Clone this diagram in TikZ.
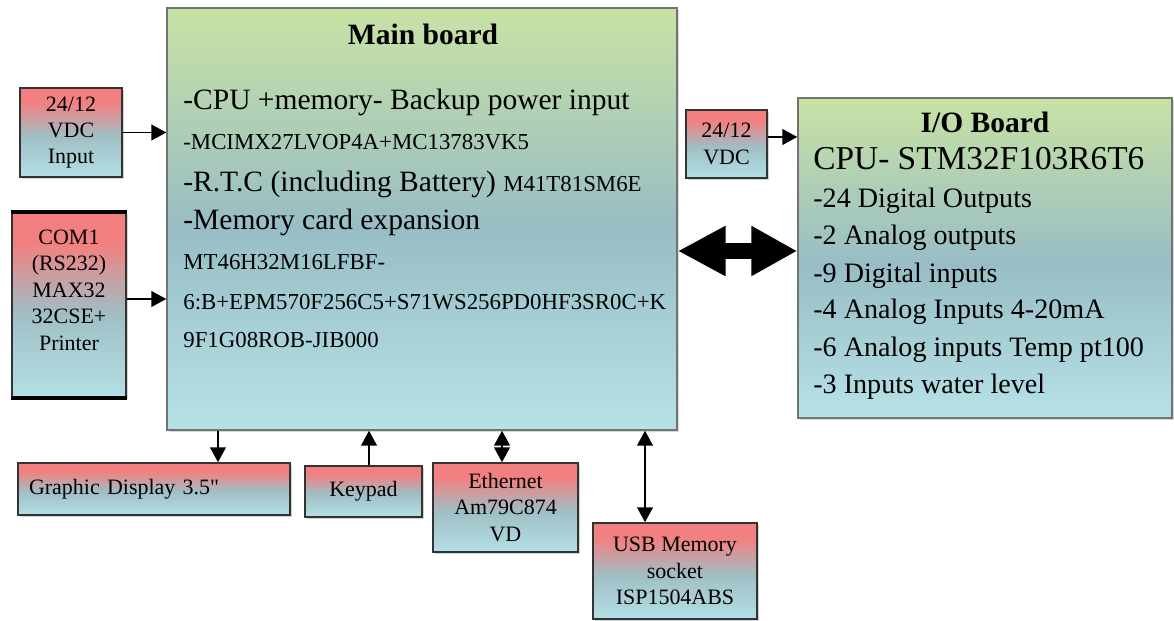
\documentclass[tikz,border=0pt]{standalone}
\usepackage{fontspec}
\setmainfont{Liberation Serif}
\newfontfamily\plainserif{Liberation Serif}
\usetikzlibrary{arrows.meta,shadows}

\definecolor{boardtop}{RGB}{200,226,164}
\definecolor{boardmid}{RGB}{152,189,197}
\definecolor{boardlow}{RGB}{182,226,231}
\definecolor{boxtop}{RGB}{243,128,128}
\definecolor{boxmid}{RGB}{160,190,196}
\definecolor{boxlow}{RGB}{178,224,230}

\pgfdeclareverticalshading{boardshade}{100bp}{color(0bp)=(boardlow); color(25bp)=(boardlow); color(49bp)=(boardmid); color(75bp)=(boardtop); color(100bp)=(boardtop)}
\pgfdeclareverticalshading{boxshade}{100bp}{color(0bp)=(boxlow); color(25bp)=(boxlow); color(48bp)=(boxmid); color(67bp)=(boxtop); color(100bp)=(boxtop)}

\begin{document}
\begin{tikzpicture}[x=0.02cm,y=-0.02cm,
    board/.style ={draw=black!55, line width=0.9pt, shading=boardshade, inner sep=0pt,
                   drop shadow={opacity=0.3, shadow xshift=1.2pt, shadow yshift=-1.2pt}},
    panel/.style ={draw=black!80, line width=0.9pt, shading=boxshade, inner sep=0pt, align=center,
                   font=\fontsize{12.5}{15}\selectfont,
                   drop shadow={opacity=0.35, shadow xshift=1.2pt, shadow yshift=-1.2pt}},
    heading/.style ={anchor=base, inner sep=0pt, font=\bfseries\fontsize{16.8}{20}\selectfont},
    bigline/.style ={anchor=base west, inner sep=0pt, font=\fontsize{16.8}{20}\selectfont},
    smallline/.style ={anchor=base west, inner sep=0pt, font=\fontsize{13}{15}\selectfont},
    ioline/.style ={anchor=base west, inner sep=0pt, font=\fontsize{16}{19}\selectfont},
    link/.style ={-{Triangle[length=8.5pt,width=9pt]}, line width=1pt},
    duplex/.style ={{Triangle[length=8.5pt,width=9pt]}-{Triangle[length=8.5pt,width=9pt]}, line width=1pt}]
   \useasboundingbox (0,0) rectangle (1174,621);

   % boards
   \node[board, minimum width=10.2cm, minimum height=8.44cm] (main) at (422,219) {};
   \node[board, minimum width=7.48cm, minimum height=6.4cm] (io) at (985,258) {};

   % main board text
   \node[heading] (maintitle) at (423,45) {Main board};
   \node[bigline] (cpu) at (183,110) {-CPU +memory- Backup power input};
   \node[smallline] (cpuic) at (183,150) {-MCIMX27LVOP4A+MC13783VK5};
   \node[bigline] (rtc) at (183,192) {-R.T.C (including Battery) {\fontsize{13}{15}\selectfont M41T81SM6E}};
   \node[bigline] (mem) at (183,230) {-Memory card expansion};
   \node[smallline] (memic1) at (183,270) {MT46H32M16LFBF-};
   \node[smallline] (memic2) at (183,310) {6:B+EPM570F256C5+S71WS256PD0HF3SR0C+K};
   \node[smallline] (memic3) at (183,348) {9F1G08ROB-JIB000};

   % I/O board text
   \node[heading] (iotitle) at (985,133) {I/O Board};
   \node[ioline, font=\fontsize{19}{22}\selectfont] (iocpu) at (813,170) {CPU- STM32F103R6T6};
   \node[ioline] (dout) at (813,208) {-24 Digital Outputs};
   \node[ioline] (aout) at (813,245) {-2 Analog outputs};
   \node[ioline] (din) at (813,283) {-9 Digital inputs};
   \node[ioline] (ain) at (813,319) {-4 Analog Inputs 4-20mA};
   \node[ioline] (tin) at (813,357) {-6 Analog inputs Temp pt100};
   \node[ioline] (lin) at (813,394) {-3 Inputs water level};

   % peripherals
   \node[panel, minimum width=2.04cm, minimum height=1.78cm] (vdcin) at (71,132.5) {24/12\\VDC\\Input};
   \node[panel, minimum width=2.28cm, minimum height=3.68cm] (com) at (69,305) {COM1\\(RS232)\\MAX32\\32CSE+\\Printer\\[2pt]~};
   \draw[line width=2.2pt] (com.north west) -- (com.north east);
   \draw[line width=2.2pt] (com.south west) -- (com.south east);
   \node[panel, minimum width=1.62cm, minimum height=1.36cm] (vdcio) at (726.5,144) {24/12\\VDC};
   \node[panel, minimum width=5.44cm, minimum height=1.04cm, text width=5.0cm, align=left] (gfx) at (154,489) {Graphic Display 3.5{\plainserif"}};
   \node[panel, minimum width=2.34cm, minimum height=1.02cm] (keypad) at (363.5,491.5) {Keypad};
   \node[panel, minimum width=2.9cm, minimum height=1.78cm] (eth) at (505.5,507.5) {Ethernet\\Am79C874\\VD};
   \node[panel, minimum width=3.28cm, minimum height=1.92cm] (usb) at (675,571) {USB Memory\\socket\\ISP1504ABS};

   % connections
   \coordinate (comport) at ([yshift=0.12cm]com.east);
   \coordinate (vdcport) at ([yshift=0.14cm]vdcio.east);
   \coordinate (gfxport) at ([xshift=1.28cm]gfx.north);
   \coordinate (keyport) at ([xshift=0.11cm]keypad.north);
   \coordinate (ethport) at ([xshift=-0.07cm]eth.north);
   \coordinate (usbport) at ([xshift=-0.6cm]usb.north);
   \coordinate (bus) at (677,251);

   \draw[link] (vdcin.east) -- (vdcin.east -| main.west);
   \draw[link] (comport) -- (comport -| main.west);
   \draw[link] (vdcport) -- (vdcport -| io.west);
   \draw[link] (gfxport |- main.south) -- (gfxport);
   \draw[link] (keyport) -- (keyport |- main.south);
   \draw[duplex] (ethport |- main.south) -- (ethport);
   \draw[duplex] (usbport |- main.south) -- (usbport);
   \draw[line width=0.32cm, {Triangle[length=0.96cm,width=0.94cm]}-{Triangle[length=0.92cm,width=0.94cm]}]
      (bus -| main.east) -- (bus -| io.west);
\end{tikzpicture}
\end{document}
